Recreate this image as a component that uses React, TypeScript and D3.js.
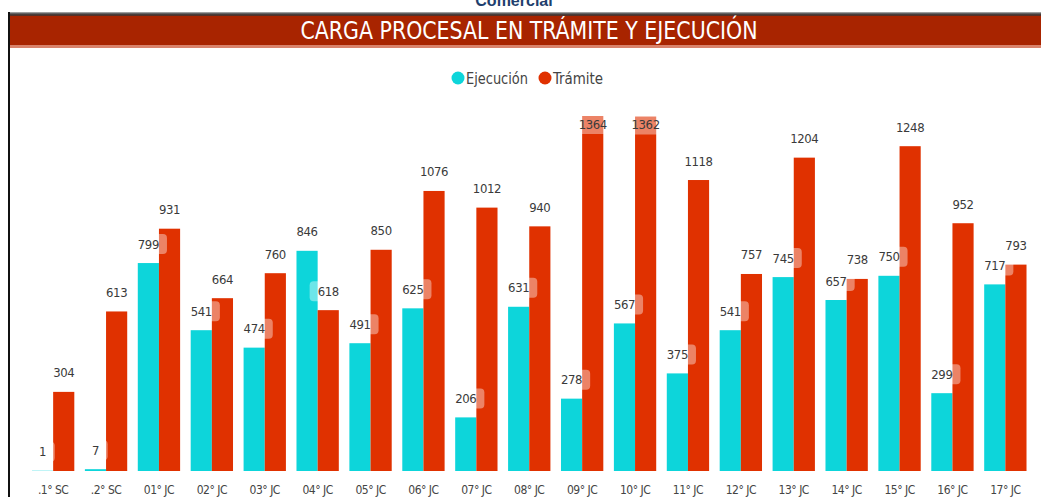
import React from "react";
import * as d3 from "d3";

const categories = [".1° SC", ".2° SC", "01° JC", "02° JC", "03° JC", "04° JC", "05° JC", "06° JC", "07° JC", "08° JC", "09° JC", "10° JC", "11° JC", "12° JC", "13° JC", "14° JC", "15° JC", "16° JC", "17° JC"];
const ejecucion = [1, 7, 799, 541, 474, 846, 491, 625, 206, 631, 278, 567, 375, 541, 745, 657, 750, 299, 717];
const tramite = [304, 613, 931, 664, 760, 618, 850, 1076, 1012, 940, 1364, 1362, 1118, 757, 1204, 738, 1248, 952, 793];
const seriesNames = ["Ejecución", "Trámite"];
const seriesColors = ["#0DD5DA", "#E03100"];
const title = "CARGA PROCESAL EN TRÁMITE Y EJECUCIÓN";
const pageLabel = "Comercial";

const W = 1041;
const H = 497;
const FONT = "'Liberation Sans Narrow', 'DejaVu Sans Condensed', 'Roboto', sans-serif";

export default function App() {
  const x = d3.scaleBand<string>().domain(categories).range([26.7, 1031.8]).paddingInner(0.2).paddingOuter(0.1);
  const xs = d3.scaleBand<string>().domain(seriesNames).range([0, x.bandwidth()]).padding(0);
  const maxV = d3.max([...ejecucion, ...tramite]) as number;
  const y = d3.scaleLinear().domain([0, maxV]).range([471, 116]);
  const plotTop = 108;

  const series = [ejecucion, tramite];

  const bars: React.ReactNode[] = [];
  const labels: React.ReactNode[] = [];
  categories.forEach((c, i) => {
    series.forEach((vals, s) => {
      const v = vals[i];
      const bx = (x(c) as number) + (xs(seriesNames[s]) as number);
      const bw = xs.bandwidth();
      const top = y(v);
      bars.push(
        <rect key={`b${i}-${s}`} x={bx} y={top} width={bw} height={471 - top} fill={seriesColors[s]} />
      );
      const txt = String(v);
      const tw = txt.length * 6.4;
      let cy = top - 19;
      if (cy - 8 < plotTop) cy = top + 8;
      const cx = bx + bw / 2;
      const boxW = tw + 18;
      labels.push(
        <g key={`l${i}-${s}`}>
          <rect x={cx - boxW / 2} y={cy - 10} width={boxW} height={20} rx={4} fill="#ffffff" fillOpacity={0.4} />
          <text x={cx} y={cy + 4.5} textAnchor="middle" fontSize={13} letterSpacing={-0.4} fill="#3a3a3a" fontFamily={FONT}>{txt}</text>
        </g>
      );
    });
  });

  return (
    <svg width={W} height={H} style={{ position: "absolute", left: 0, top: 0, background: "#fff" }} fontFamily={FONT}>
      <text x={514} y={6} textAnchor="middle" fontSize={16} fontWeight="bold" fill="#1F3F6E" fontFamily="'Liberation Sans', sans-serif">{pageLabel}</text>
      <defs>
        <linearGradient id="topline" x1="0" y1="0" x2="0" y2="1">
          <stop offset="0" stopColor="#bbbbbb" />
          <stop offset="0.5" stopColor="#444444" />
          <stop offset="1" stopColor="#5a2a1e" />
        </linearGradient>
      </defs>
      <rect x={8} y={12} width={W - 8} height={4} fill="url(#topline)" />
      <rect x={10} y={16} width={W - 10} height={29} fill="#A82400" />
      <rect x={10} y={45} width={W - 10} height={3} fill="#D9826B" />
      <rect x={8} y={12} width={2} height={H - 12} fill="#111111" />
      <text x={529} y={39} textAnchor="middle" fontSize={25} fill="#ffffff" textLength={457} lengthAdjust="spacingAndGlyphs">{title}</text>

      <circle cx={458} cy={78} r={6.5} fill={seriesColors[0]} />
      <text x={466} y={84} fontSize={16.5} fill="#444" textLength={62} lengthAdjust="spacingAndGlyphs">{seriesNames[0]}</text>
      <circle cx={545} cy={78} r={6.5} fill={seriesColors[1]} />
      <text x={553} y={84} fontSize={16.5} fill="#444" textLength={50} lengthAdjust="spacingAndGlyphs">{seriesNames[1]}</text>

      {bars}
      {labels}

      {categories.map((c) => (
        <text key={c} x={(x(c) as number) + x.bandwidth() / 2} y={494} textAnchor="middle" fontSize={12} letterSpacing={-0.5} fill="#444">{c}</text>
      ))}
    </svg>
  );
}
